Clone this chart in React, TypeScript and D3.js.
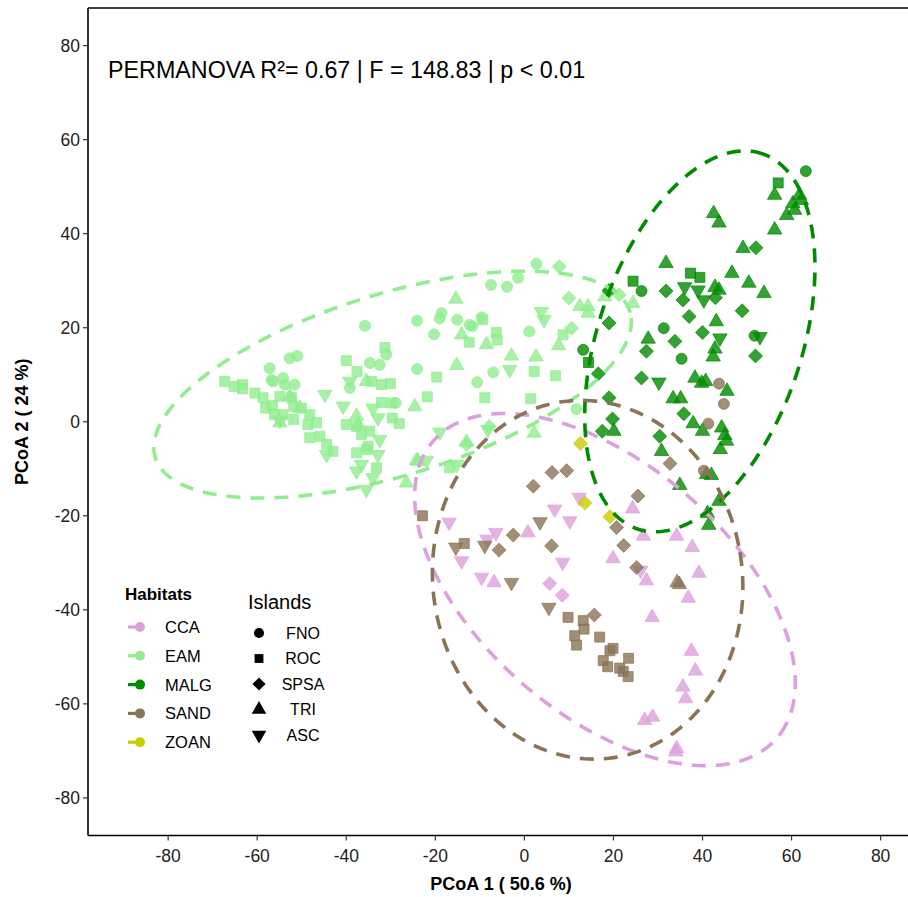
import React from "react"
import * as d3 from "d3"

const habitats = ["CCA", "EAM", "MALG", "SAND", "ZOAN"]
const habitatColors = ["#DDA0DD", "#90EE90", "#008B00", "#8B7355", "#CDCD00"]
const islands = ["FNO", "ROC", "SPSA", "TRI", "ASC"]
const xTicks = [-80, -60, -40, -20, 0, 20, 40, 60, 80]
const yTicks = [-80, -60, -40, -20, 0, 20, 40, 60, 80]

// [PCoA1, PCoA2, island]
const ccaPoints: [number, number, string][] = [
  [12.3, -16.1, "ASC"], [10.2, -21.1, "ASC"], [-16.9, -21.4, "ASC"], [-6.4, -23.6, "ASC"], [-8.4, -25.0, "ASC"],
  [6.8, -18.6, "ASC"], [-14.1, -29.6, "ASC"], [8.6, -29.9, "ASC"], [-9.6, -33.1, "ASC"], [26.1, -31.6, "ASC"],
  [24.3, -18.5, "TRI"], [26.7, -24.3, "TRI"], [34.2, -24.3, "TRI"], [0.8, -23.6, "TRI"], [-6.8, -34.2, "TRI"],
  [19.9, -29.1, "TRI"], [37.7, -26.7, "TRI"], [27.4, -33.8, "TRI"], [39.2, -32.2, "TRI"], [36.8, -37.5, "TRI"],
  [28.7, -41.6, "TRI"], [37.5, -48.8, "TRI"], [38.4, -53.0, "TRI"], [35.6, -56.4, "TRI"], [36.2, -58.9, "TRI"],
  [27.0, -63.5, "TRI"], [28.8, -62.8, "TRI"], [34.2, -69.5, "TRI"], [34.0, -70.2, "TRI"],
  [5.7, -34.4, "SPSA"], [8.5, -36.9, "SPSA"],
]

const eamPoints: [number, number, string][] = [
  [-67.3, 8.6, "ROC"], [-65.2, 7.5, "ROC"], [-63.3, 7.9, "ROC"], [-63.3, 7.0, "ROC"], [-60.5, 6.1, "ROC"],
  [-58.7, 5.1, "ROC"], [-58.1, 2.9, "ROC"], [-56.6, 3.4, "ROC"], [-56.1, 1.5, "ROC"], [-54.2, 1.5, "ROC"],
  [-54.9, 5.4, "ROC"], [-52.3, 5.1, "ROC"], [-51.8, 3.3, "ROC"], [-51.8, 0.5, "ROC"], [-50.1, 2.9, "ROC"],
  [-48.2, 1.5, "ROC"], [-48.6, -0.6, "ROC"], [-46.7, -0.2, "ROC"], [-48.2, -3.4, "ROC"], [-45.9, -3.1, "ROC"],
  [-44.4, -4.8, "ROC"], [-43.0, -6.3, "ROC"], [-40.0, 13.0, "ROC"], [-37.6, 10.7, "ROC"], [-34.3, 8.6, "ROC"],
  [-31.3, 15.8, "ROC"], [-32.1, 7.9, "ROC"], [-29.8, 4.0, "ROC"], [-40.0, -0.6, "ROC"], [-37.7, -1.0, "ROC"],
  [-36.6, -2.7, "ROC"], [-34.7, -2.0, "ROC"], [-37.7, -6.6, "ROC"], [-35.5, -5.9, "ROC"], [-33.2, -9.8, "ROC"],
  [-30.1, 8.1, "ROC"], [-19.7, 9.5, "ROC"], [-21.8, 5.3, "ROC"], [-8.9, 5.1, "ROC"], [-12.4, 16.9, "ROC"],
  [-9.4, 21.7, "ROC"], [-6.3, 19.0, "ROC"], [-6.1, 17.4, "ROC"], [-32.1, 4.1, "ROC"], [-29.7, 0.8, "ROC"],
  [-28.1, -0.4, "ROC"], [-16.8, -9.8, "ROC"], [2.2, 10.7, "ROC"], [1.4, 4.9, "ROC"], [7.0, 9.8, "ROC"],
  [8.7, 18.5, "ROC"], [-35.1, -5.2, "ROC"],
  [-54.9, -0.2, "TRI"], [-52.7, 5.4, "TRI"], [-50.4, 2.9, "TRI"], [-37.7, 1.2, "TRI"], [-37.3, -0.6, "TRI"],
  [-35.5, 8.6, "TRI"], [-15.4, 26.1, "TRI"], [-14.1, 18.5, "TRI"], [-15.2, 12.0, "TRI"], [-8.5, 16.4, "TRI"],
  [-24.6, 3.2, "TRI"], [-13.0, -4.3, "TRI"], [-24.2, -8.2, "TRI"], [-26.5, -13.0, "TRI"], [-2.9, 14.0, "TRI"],
  [2.6, 13.8, "TRI"], [7.7, 16.2, "TRI"], [2.2, -2.4, "TRI"], [12.4, 24.5, "TRI"], [14.3, 24.5, "TRI"],
  [14.3, 23.1, "TRI"], [18.1, 26.6, "TRI"], [24.4, 25.2, "TRI"], [-23.9, -8.4, "TRI"],
  [-44.8, 5.8, "ASC"], [-40.7, 3.3, "ASC"], [-39.2, 8.6, "ASC"], [-44.4, -7.0, "ASC"], [-34.0, 2.9, "ASC"],
  [-32.9, 0.8, "ASC"], [-32.5, -3.8, "ASC"], [-32.9, -7.0, "ASC"], [-36.6, -9.1, "ASC"], [-37.7, -10.5, "ASC"],
  [-34.0, -11.9, "ASC"], [-35.5, -14.4, "ASC"], [-19.0, -2.2, "ASC"], [-8.2, -1.7, "ASC"], [-22.0, -8.2, "ASC"],
  [-15.2, -9.1, "ASC"], [-3.3, 11.1, "ASC"], [3.8, 23.4, "ASC"], [4.4, 21.7, "ASC"], [-54.9, 0.3, "ASC"],
  [-35.8, 20.4, "FNO"], [-57.2, 11.4, "FNO"], [-56.8, 8.9, "FNO"], [-56.4, 8.6, "FNO"], [-54.2, 9.3, "FNO"],
  [-52.7, 13.5, "FNO"], [-51.0, 14.0, "FNO"], [-51.6, 7.9, "FNO"], [-53.8, 7.9, "FNO"], [-34.7, 12.5, "FNO"],
  [-32.5, 12.1, "FNO"], [-39.2, 7.2, "FNO"], [-31.0, 14.3, "FNO"], [-24.1, 21.5, "FNO"], [-18.6, 23.1, "FNO"],
  [-19.0, 22.0, "FNO"], [-15.1, 21.7, "FNO"], [-20.3, 18.6, "FNO"], [-12.3, 20.6, "FNO"], [-11.7, 20.3, "FNO"],
  [-9.6, 22.2, "FNO"], [-7.5, 29.1, "FNO"], [-24.1, 11.2, "FNO"], [-10.6, 8.4, "FNO"], [-7.0, 10.5, "FNO"],
  [-28.9, 4.0, "FNO"], [1.1, 19.2, "FNO"], [11.7, 2.7, "FNO"], [2.7, 33.6, "FNO"], [-3.9, 28.7, "FNO"],
  [-1.4, 30.6, "FNO"],
  [-7.9, -1.0, "SPSA"], [-13.0, -4.8, "SPSA"], [10.6, 19.9, "SPSA"], [7.8, 33.0, "SPSA"], [10.0, 26.3, "SPSA"],
  [21.3, 27.0, "SPSA"],
]

const malgPoints: [number, number, string][] = [
  [63.2, 53.3, "FNO"], [26.3, 27.8, "FNO"], [31.3, 19.9, "FNO"], [51.7, 18.3, "FNO"], [35.3, 13.4, "FNO"],
  [13.2, 15.3, "FNO"],
  [57.0, 50.8, "ROC"], [24.4, 29.9, "ROC"], [37.3, 31.6, "ROC"], [39.4, 30.7, "ROC"], [14.4, 12.6, "ROC"],
  [52.0, 37.0, "SPSA"], [31.8, 27.8, "SPSA"], [35.6, 25.9, "SPSA"], [42.9, 26.4, "SPSA"], [37.0, 22.4, "SPSA"],
  [48.9, 23.6, "SPSA"], [19.0, 21.0, "SPSA"], [19.0, 27.9, "SPSA"], [33.8, 17.1, "SPSA"], [40.0, 19.0, "SPSA"],
  [27.4, 15.0, "SPSA"], [51.9, 14.0, "SPSA"], [16.6, 10.2, "SPSA"], [26.3, 9.3, "SPSA"], [19.0, 5.1, "SPSA"],
  [35.8, 1.7, "SPSA"], [19.8, 0.6, "SPSA"], [17.5, -2.0, "SPSA"], [30.4, -3.1, "SPSA"],
  [56.2, 48.2, "TRI"], [61.8, 48.2, "TRI"], [62.2, 47.1, "TRI"], [60.3, 46.4, "TRI"], [60.7, 45.0, "TRI"],
  [58.9, 43.9, "TRI"], [42.5, 44.3, "TRI"], [43.7, 42.3, "TRI"], [56.2, 40.8, "TRI"], [49.1, 36.9, "TRI"],
  [31.8, 33.7, "TRI"], [46.6, 31.6, "TRI"], [50.4, 29.5, "TRI"], [53.8, 27.3, "TRI"], [42.8, 28.6, "TRI"],
  [43.7, 28.0, "TRI"], [43.1, 21.3, "TRI"], [27.8, 17.6, "TRI"], [42.8, 15.5, "TRI"], [42.4, 13.8, "TRI"],
  [38.3, 9.3, "TRI"], [39.8, 8.2, "TRI"], [40.7, 8.6, "TRI"], [45.5, 6.5, "TRI"], [33.4, 4.9, "TRI"],
  [35.1, 4.9, "TRI"], [20.1, -2.0, "TRI"], [37.9, -0.4, "TRI"], [40.0, -2.0, "TRI"], [44.3, -1.3, "TRI"],
  [45.0, -2.9, "TRI"], [45.4, -4.1, "TRI"], [44.0, -5.9, "TRI"], [30.8, -6.3, "TRI"], [40.9, -11.2, "TRI"],
  [42.0, -11.4, "TRI"], [34.9, -13.5, "TRI"], [43.7, -16.9, "TRI"], [41.1, -19.5, "TRI"], [41.4, -22.0, "TRI"],
  [36.0, 28.7, "ASC"], [39.0, 28.0, "ASC"], [40.3, 25.9, "ASC"], [43.9, 17.8, "ASC"], [52.9, 18.1, "ASC"],
  [30.2, 8.4, "ASC"],
]

const sandPoints: [number, number, string][] = [
  [43.7, 8.1, "FNO"], [44.8, 3.8, "FNO"], [41.3, -0.4, "FNO"], [40.3, -10.4, "FNO"],
  [9.5, -10.4, "SPSA"], [32.7, -8.9, "SPSA"], [25.5, -15.8, "SPSA"], [20.7, -22.5, "SPSA"], [6.2, -10.8, "SPSA"],
  [2.0, -13.7, "SPSA"], [-2.5, -24.1, "SPSA"], [-5.7, -27.3, "SPSA"], [6.1, -26.4, "SPSA"], [22.3, -26.3, "SPSA"],
  [25.2, -31.0, "SPSA"], [15.7, -41.1, "SPSA"],
  [-22.9, -20.0, "ROC"], [-13.5, -25.9, "ROC"], [9.8, -41.6, "ROC"], [13.2, -42.3, "ROC"], [13.4, -44.1, "ROC"],
  [11.3, -45.5, "ROC"], [16.9, -45.8, "ROC"], [11.7, -47.5, "ROC"], [19.2, -48.7, "ROC"], [19.9, -48.2, "ROC"],
  [17.7, -50.8, "ROC"], [18.7, -52.1, "ROC"], [23.4, -50.3, "ROC"], [21.4, -52.4, "ROC"], [22.2, -53.1, "ROC"],
  [23.3, -54.2, "ROC"],
  [-15.4, -26.7, "ASC"], [-8.9, -26.3, "ASC"], [3.5, -21.3, "ASC"], [-2.9, -34.2, "ASC"], [5.5, -39.5, "ASC"],
  [34.3, -34.2, "TRI"], [34.8, -34.6, "TRI"],
]

const zoanPoints: [number, number, string][] = [
  [12.6, -4.6, "SPSA"], [13.6, -17.3, "SPSA"], [19.2, -20.2, "SPSA"],
]

const pointsByHabitat = [ccaPoints, eamPoints, malgPoints, sandPoints, zoanPoints]

// 95% ellipses: centre, semi-axes and rotation (degrees), for CCA, EAM, MALG, SAND
const ellipseHabitat = ["CCA", "EAM", "MALG", "SAND"]
const ellipseCx = [18.1, -29.6, 39.4, 14.2]
const ellipseCy = [-35.7, 7.9, 17.1, -33.6]
const ellipseRx = [49.9, 55.5, 42.3, 34.7]
const ellipseRy = [27.2, 19.4, 22.8, 38.3]
const ellipseAngle = [-38, 16, 70, 12]

const W = 908
const H = 897
const panel = { left: 88, top: 8, bottom: 835.5 }

const symbolType: Record<string, d3.SymbolType> = {
  FNO: d3.symbolCircle,
  ROC: d3.symbolSquare,
  SPSA: d3.symbolDiamond2,
  TRI: d3.symbolTriangle,
  ASC: d3.symbolTriangle,
}
const symbolSize: Record<string, number> = { FNO: 95, ROC: 100, SPSA: 125, TRI: 90, ASC: 90 }
const legendSize: Record<string, number> = { FNO: 80, ROC: 78, SPSA: 110, TRI: 92, ASC: 92 }

export default function App() {
  const x = d3.scaleLinear().domain([-98, 88]).range([panel.left, panel.left + 186 * 4.453])
  const y = d3.scaleLinear().domain([-88, 88]).range([panel.bottom, panel.top])
  const font = "Liberation Sans, Arial, sans-serif"

  const ellipsePath = (i: number) => {
    const th = (ellipseAngle[i] * Math.PI) / 180
    const pts = d3.range(0, 201).map((k) => {
      const t = (k / 200) * Math.PI * 2
      const ex = ellipseRx[i] * Math.cos(t)
      const ey = ellipseRy[i] * Math.sin(t)
      return [
        ellipseCx[i] + ex * Math.cos(th) - ey * Math.sin(th),
        ellipseCy[i] + ex * Math.sin(th) + ey * Math.cos(th),
      ] as [number, number]
    })
    return d3.line<[number, number]>().x((d) => x(d[0])).y((d) => y(d[1]))(pts) || ""
  }

  const sym = (island: string, size: number) => d3.symbol().type(symbolType[island]).size(size)() || ""

  return (
    <svg width={W} height={H} style={{ position: "absolute", left: 0, top: 0, background: "#fff" }} fontFamily={font}>
      <rect width={W} height={H} fill="#fff" />
      <clipPath id="clip">
        <rect x={panel.left} y={panel.top} width={W - panel.left} height={panel.bottom - panel.top} />
      </clipPath>

      <g clipPath="url(#clip)">
        {pointsByHabitat.map((pts, hi) =>
          pts.map((p, i) => (
            <path
              key={hi + "-" + i}
              d={sym(p[2], symbolSize[p[2]])}
              transform={`translate(${x(p[0])},${y(p[1])})${p[2] === "ASC" ? " rotate(180)" : ""}`}
              fill={habitatColors[hi]}
              fillOpacity={0.8}
              stroke={habitatColors[hi]}
              strokeOpacity={0.9}
              strokeWidth={0.8}
            />
          ))
        )}
        {ellipseHabitat.map((h, i) => (
          <path
            key={h}
            d={ellipsePath(i)}
            fill="none"
            stroke={habitatColors[habitats.indexOf(h)]}
            strokeWidth={3.6}
            strokeDasharray="14 10"
          />
        ))}
      </g>

      {/* panel lines */}
      <line x1={panel.left} x2={W} y1={panel.top} y2={panel.top} stroke="#000" strokeWidth={1.6} />
      <line x1={panel.left} x2={panel.left} y1={panel.top} y2={panel.bottom} stroke="#000" strokeWidth={1.6} />
      <line x1={panel.left} x2={W} y1={panel.bottom} y2={panel.bottom} stroke="#000" strokeWidth={1.6} />

      {yTicks.map((t) => (
        <g key={"y" + t}>
          <line x1={panel.left - 5} x2={panel.left} y1={y(t)} y2={y(t)} stroke="#333" strokeWidth={1.2} />
          <text x={panel.left - 8} y={y(t)} dy="0.36em" textAnchor="end" fontSize={17.5} fill="#222">
            {t}
          </text>
        </g>
      ))}
      {xTicks.map((t) => (
        <g key={"x" + t}>
          <line x1={x(t)} x2={x(t)} y1={panel.bottom} y2={panel.bottom + 5} stroke="#333" strokeWidth={1.2} />
          <text x={x(t)} y={panel.bottom + 26} textAnchor="middle" fontSize={17.5} fill="#222">
            {t}
          </text>
        </g>
      ))}

      <text x={501} y={890} textAnchor="middle" fontSize={18} fontWeight="bold">
        PCoA 1 ( 50.6 %)
      </text>
      <text transform={`translate(28,${(panel.top + panel.bottom) / 2}) rotate(-90)`} textAnchor="middle" fontSize={18} fontWeight="bold">
        PCoA 2 ( 24 %)
      </text>

      <text x={108} y={78} fontSize={23.3}>
        PERMANOVA R²= 0.67 | F = 148.83 | p &lt; 0.01
      </text>

      {/* legends */}
      <text x={125} y={600} fontSize={17} fontWeight="bold">Habitats</text>
      {habitats.map((h, i) => {
        const ly = 627 + i * 28.8
        return (
          <g key={h}>
            <line x1={128} x2={140} y1={ly} y2={ly} stroke={habitatColors[i]} strokeWidth={3.2} />
            <circle cx={140} cy={ly} r={5} fill={habitatColors[i]} />
            <text x={165} y={ly} dy="0.36em" fontSize={16.5}>{h}</text>
          </g>
        )
      })}
      <text x={248} y={609} fontSize={20}>Islands</text>
      {islands.map((s, i) => {
        const ly = 633 + i * 25.5
        return (
          <g key={s}>
            <path
              d={sym(s, legendSize[s])}
              transform={`translate(259,${ly})${s === "ASC" ? " rotate(180)" : ""}`}
              fill="#000"
            />
            <text x={303} y={ly} dy="0.36em" textAnchor="middle" fontSize={16}>{s}</text>
          </g>
        )
      })}
    </svg>
  )
}
